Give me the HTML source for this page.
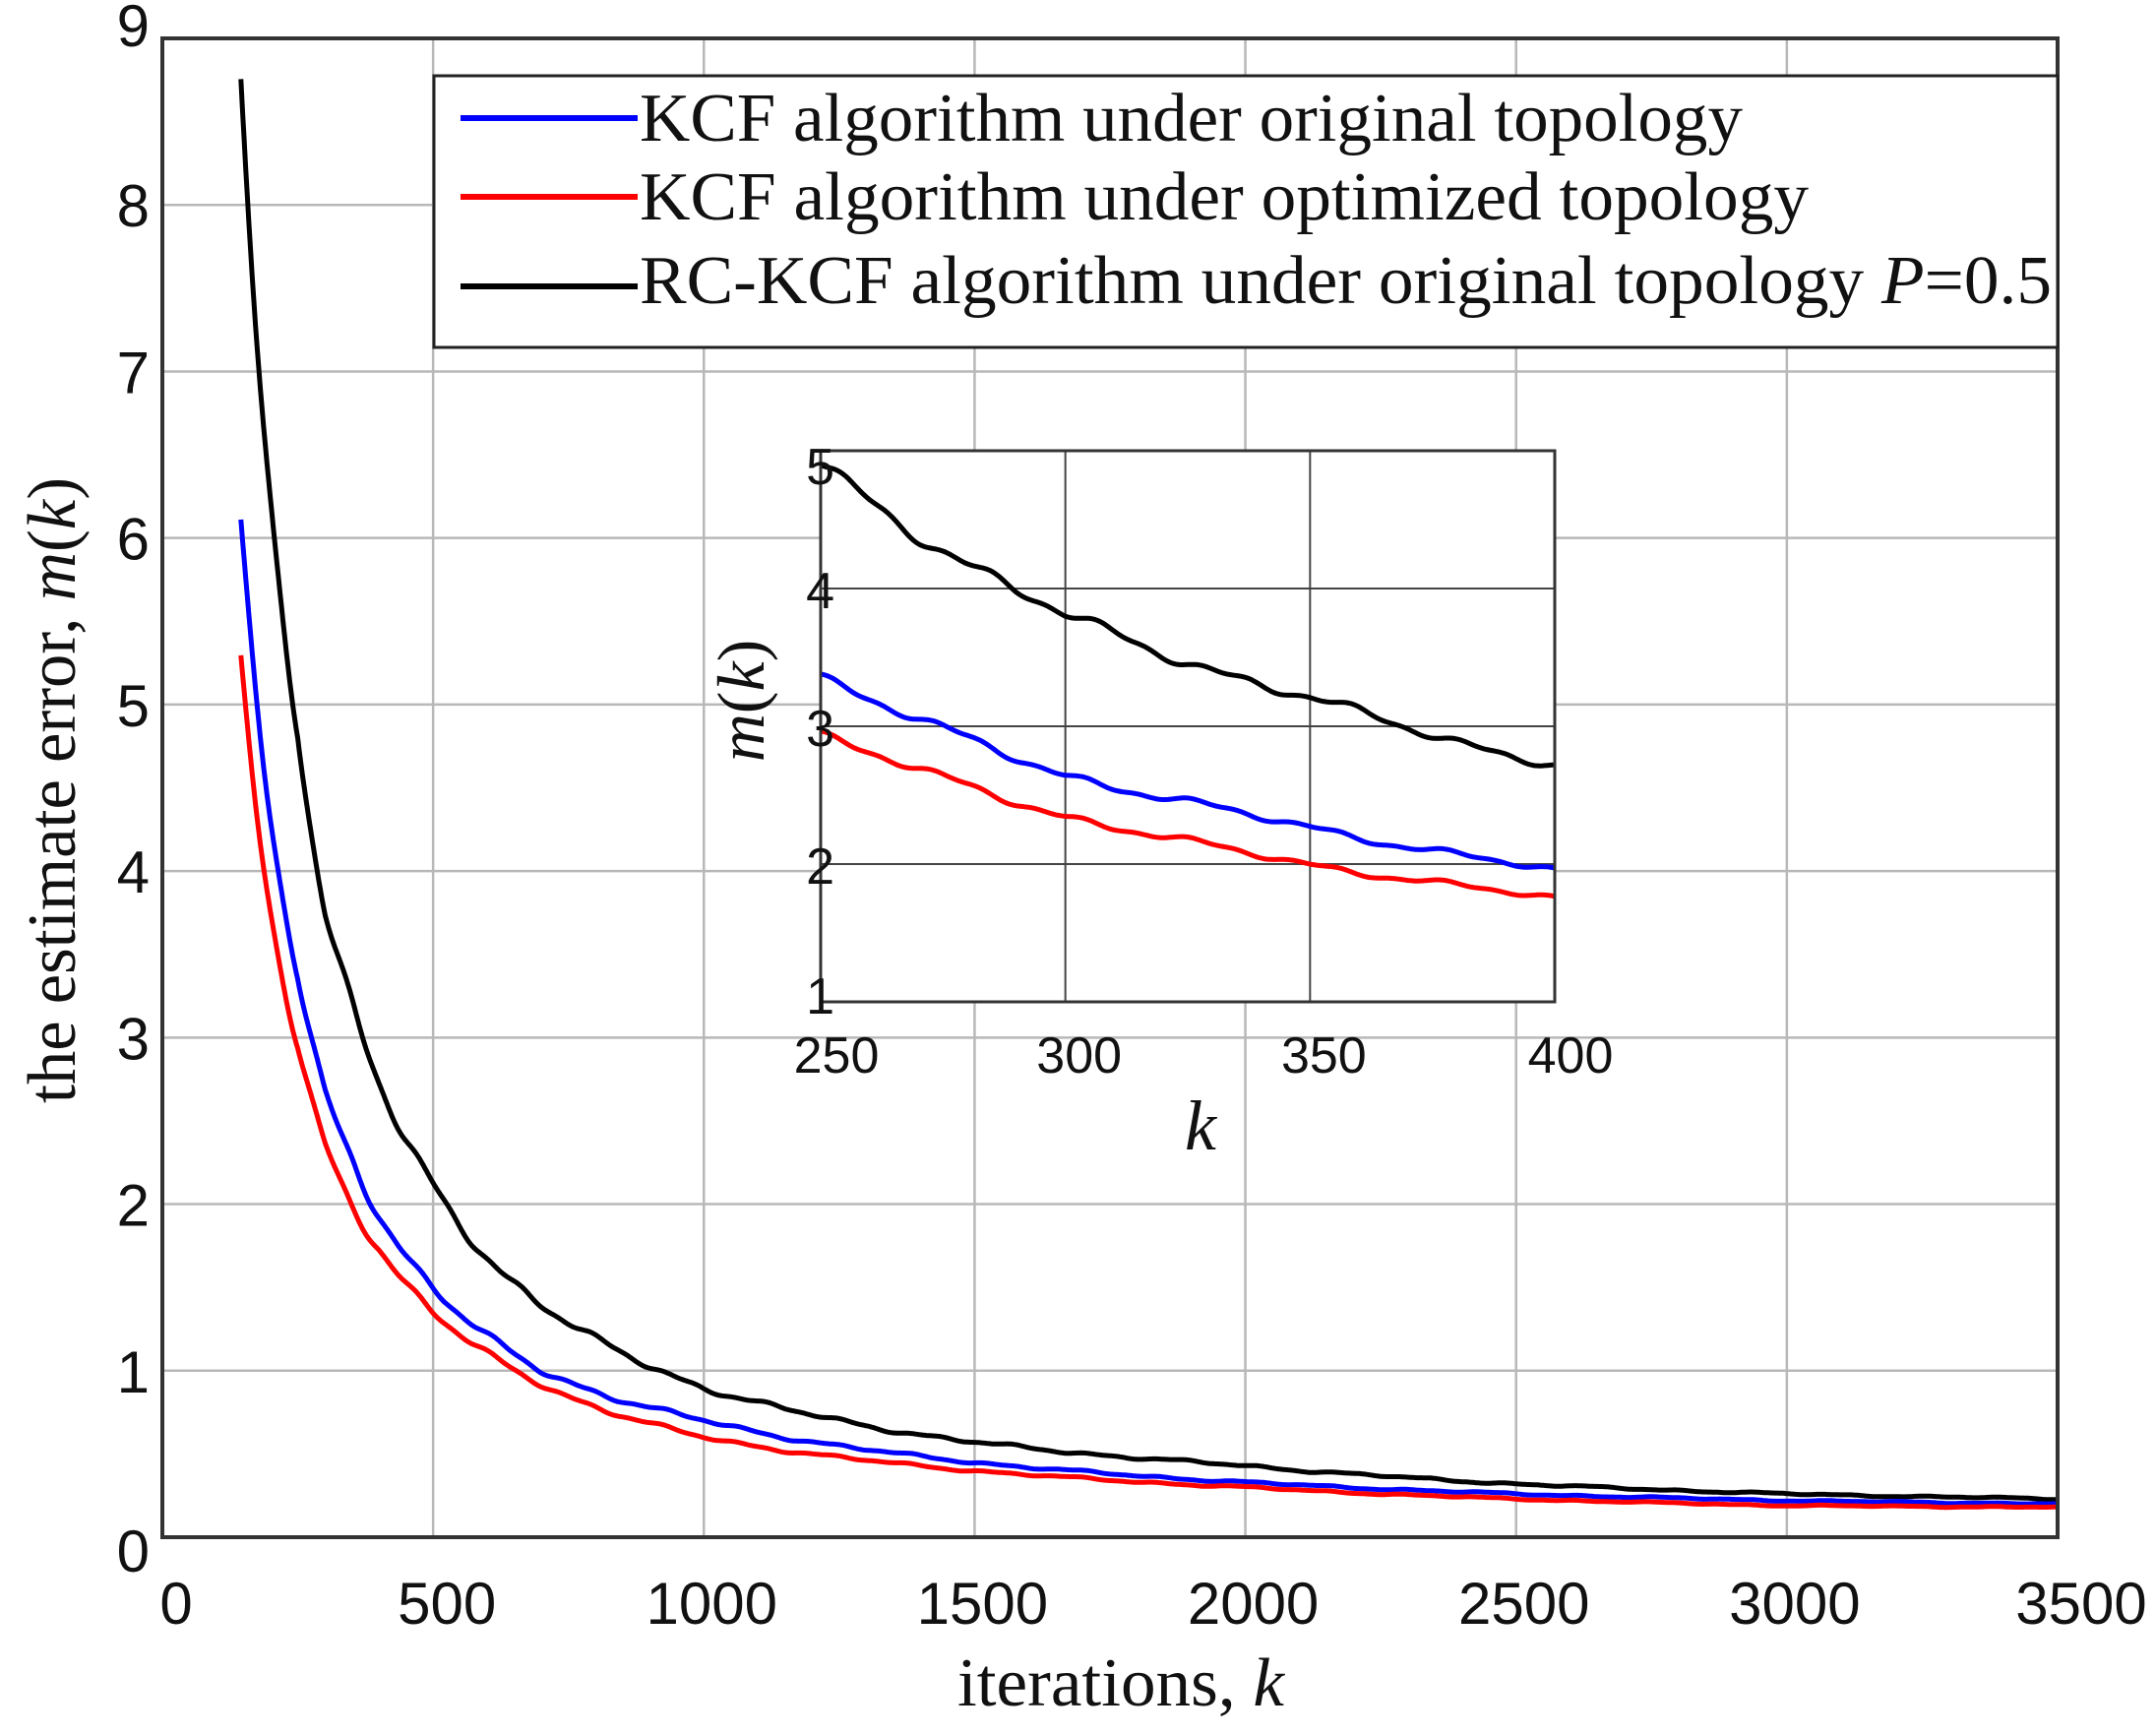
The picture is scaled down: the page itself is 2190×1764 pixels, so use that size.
<!DOCTYPE html>
<html><head><meta charset="utf-8"><style>
html,body{margin:0;padding:0;background:#fff;}
svg{display:block;}
.tk{font-family:"Liberation Sans",sans-serif;font-size:60px;fill:#111;}
.tk2{font-family:"Liberation Sans",sans-serif;font-size:52px;fill:#111;}
.sr{font-family:"Liberation Serif",serif;fill:#111;}
</style></head><body>
<svg id="s" width="2190" height="1764" viewBox="0 0 2190 1764" xmlns="http://www.w3.org/2000/svg">
<rect width="2190" height="1764" fill="#fff"/>
<g id="grid" stroke="#b8b8b8" stroke-width="2.5"></g>
<g id="curves" fill="none" stroke-width="5" stroke-linejoin="round"></g>
<rect x="165" y="39" width="1926" height="1523" fill="none" stroke="#333" stroke-width="4"/>
<g id="ticks" class="tk"></g>
<text class="sr" x="973" y="1733" font-size="70" textLength="332" lengthAdjust="spacingAndGlyphs">iterations, <tspan font-style="italic">k</tspan></text>
<text class="sr" transform="translate(76,1121) rotate(-90)" font-size="70" textLength="636" lengthAdjust="spacingAndGlyphs">the estimate error, <tspan font-style="italic">m</tspan>(<tspan font-style="italic">k</tspan>)</text>
<rect x="441" y="77" width="1650" height="276" fill="#fff" stroke="#222" stroke-width="3"/>
<line x1="468" y1="120" x2="648" y2="120" stroke="#0000ff" stroke-width="6"/>
<line x1="468" y1="200" x2="648" y2="200" stroke="#ff0000" stroke-width="6"/>
<line x1="468" y1="291" x2="648" y2="291" stroke="#000" stroke-width="6"/>
<text class="sr" x="650" y="143" font-size="70" textLength="1121" lengthAdjust="spacingAndGlyphs">KCF algorithm under original topology</text>
<text class="sr" x="650" y="223" font-size="70" textLength="1188" lengthAdjust="spacingAndGlyphs">KCF algorithm under optimized topology</text>
<text class="sr" x="650" y="308" font-size="70" textLength="1435" lengthAdjust="spacingAndGlyphs">RC-KCF algorithm under original topology <tspan font-style="italic">P</tspan>=0.5</text>
<rect x="834" y="458" width="746" height="560" fill="#fff"/>
<g id="igrid" stroke="#444" stroke-width="2"></g>
<g id="icurves" fill="none" stroke-width="5" stroke-linejoin="round"></g>
<rect x="834" y="458" width="746" height="560" fill="none" stroke="#333" stroke-width="3"/>
<g id="iticks" class="tk2"></g>
<text class="sr" x="1220" y="1168" font-size="72" font-style="italic" text-anchor="middle">k</text>
<text class="sr" transform="translate(776,712) rotate(-90)" font-size="68" text-anchor="middle"><tspan font-style="italic">m</tspan>(<tspan font-style="italic">k</tspan>)</text>
</svg>
<script>
var NS="http://www.w3.org/2000/svg";
function el(p,t,a,txt){var e=document.createElementNS(NS,t);for(var k in a)e.setAttribute(k,a[k]);if(txt!==undefined)e.textContent=txt;document.getElementById(p).appendChild(e);return e;}
var L=165,R=2091,T=39,B=1562;
function X(k){return L+(k/3500)*(R-L);}
function Y(v){return B-(v/9)*(B-T);}
for(var i=1;i<7;i++)el("grid","line",{x1:X(i*500),x2:X(i*500),y1:T,y2:B});
for(var j=1;j<9;j++)el("grid","line",{x1:L,x2:R,y1:Y(j),y2:Y(j)});
for(var i=0;i<=7;i++)el("ticks","text",{x:X(i*500)+(i==0?14:i==7?24:i==1?14:8),y:1650,"text-anchor":"middle"},String(i*500));
for(var j=0;j<=9;j++)el("ticks","text",{x:152,y:Y(j)+(j==0?35:j==9?8:22),"text-anchor":"end"},String(j));
var D={
 "#000":[[145,8.7],[208,5.9],[250,4.9],[300,3.8],[350,3.2],[400,2.72],[500,2.1],[700,1.4],[1000,0.9],[1500,0.57],[2000,0.43],[2500,0.32],[3000,0.26],[3500,0.23]],
 "#0000ff":[[145,6.05],[250,3.37],[300,2.65],[350,2.27],[400,1.95],[500,1.5],[700,1.0],[1000,0.7],[1500,0.45],[2000,0.33],[2500,0.26],[3000,0.22],[3500,0.2]],
 "#ff0000":[[145,5.2],[250,2.95],[300,2.35],[350,2.0],[400,1.75],[500,1.35],[700,0.92],[1000,0.6],[1500,0.4],[2000,0.3],[2500,0.23],[3000,0.19],[3500,0.18]]
};
function val(a,k){for(var i=0;i<a.length-1;i++){if(k<=a[i+1][0]){var t=(Math.log(k)-Math.log(a[i][0]))/(Math.log(a[i+1][0])-Math.log(a[i][0]));return Math.exp(Math.log(a[i][1])+t*(Math.log(a[i+1][1])-Math.log(a[i][1])));}}return a[a.length-1][1];}
function wig(k,s){return 1+0.012*Math.sin(k*0.041+s)+0.009*Math.sin(k*0.0173+2.7*s)+0.005*Math.sin(k*0.097+s*4.1);}
var seeds={"#000":0,"#0000ff":1.3,"#ff0000":1.5};
["#000","#0000ff","#ff0000"].forEach(function(c){
 var p="";for(var k=145;k<=3500;k+=3){p+=(k==145?"M":"L")+X(k).toFixed(1)+" "+Y(val(D[c],k)*wig(k,seeds[c])).toFixed(1);}
 el("curves","path",{d:p,stroke:c});
});
var iL=834,iR=1580,iT=458,iB=1018;
function IX(k){return iL+(k-250)/150*(iR-iL);}
function IY(v){return iB-(v-1)/4*(iB-iT);}
[300,350].forEach(function(k){el("igrid","line",{x1:IX(k),x2:IX(k),y1:iT,y2:iB});});
[2,3,4].forEach(function(v){el("igrid","line",{x1:iL,x2:iR,y1:IY(v),y2:IY(v)});});
[250,300,350,400].forEach(function(k,i){el("iticks","text",{x:IX(k)+(i==0?16:i==3?16:14),y:1090,"text-anchor":"middle"},String(k));});
[1,2,3,4,5].forEach(function(v){el("iticks","text",{x:848,y:IY(v)+(v==5?34:v==1?12:20),"text-anchor":"end"},String(v));});
function iw(k,s){return 1+0.008*Math.sin(k*0.25+s)+0.006*Math.sin(k*0.11+2*s)+0.004*Math.sin(k*0.6+s);}
["#000","#0000ff","#ff0000"].forEach(function(c){
 var p="";for(var k=250;k<=400;k+=0.5){p+=(k==250?"M":"L")+IX(k).toFixed(1)+" "+IY(val(D[c],k)*iw(k,seeds[c])).toFixed(1);}
 el("icurves","path",{d:p,stroke:c});
});
</script>
</body></html>
